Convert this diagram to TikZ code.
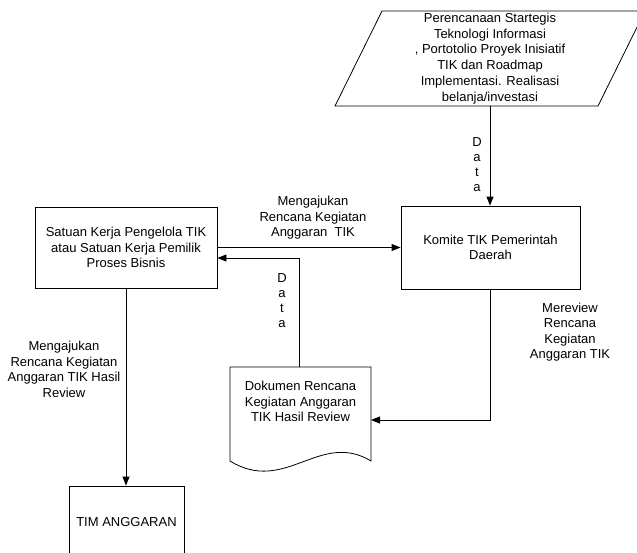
\documentclass[tikz,border=0pt]{standalone}
\usepackage{fontspec}
\setmainfont{Liberation Sans}
\usetikzlibrary{arrows.meta}
\tikzset{
  box/.style={draw, line width=0.8pt, align=center, inner sep=0pt},
  txt/.style={align=center, inner sep=0pt},
  arr/.style={line width=0.8pt, -{Triangle[length=9pt,width=7pt]}},
  ln/.style={line width=0.8pt},
  vdata/.style={align=center, inner sep=0pt, font=\fontsize{13}{15}\selectfont}
}
\begin{document}
\begin{tikzpicture}[x=1pt,y=-1pt, every node/.style={font=\fontsize{13}{15.5}\selectfont}]
\useasboundingbox (0,0) rectangle (637,552);
\clip (0,0) rectangle (637,552);

% parallelogram (data input)
\draw[ln] (335,106) -- (598,106) -- (645,11) -- (382,11) -- cycle;
\node[txt, minimum height=95pt, font=\fontsize{13}{15.8}\selectfont] (plan) at (490,58.5)
  {Perencanaan Startegis\\Teknologi Informasi\\, Portotolio Proyek Inisiatif\\TIK dan Roadmap\\Implementasi. Realisasi\\belanja/investasi};

% process boxes
\node[box, minimum width=182pt, minimum height=81pt] (sat) at (126,247.5)
  {Satuan Kerja Pengelola TIK\\atau Satuan Kerja Pemilik\\Proses Bisnis};
\node[box, minimum width=179pt, minimum height=83pt] (kom) at (490.5,247.5)
  {Komite TIK Pemerintah\\Daerah};
\node[box, minimum width=115pt, minimum height=72pt] (tim) at (126.5,522)
  {TIM ANGGARAN};

% document shape
\draw[ln] (230,367) -- (371,367) -- (371,461) .. controls (320,430) and (285,495) .. (230,461) -- cycle;
\node[txt] (dok) at (300.5,401.5) {Dokumen Rencana\\Kegiatan Anggaran\\TIK Hasil Review};
\coordinate (dokN) at (299,367);
\coordinate (dokE) at (371,420);

% connectors
\draw[arr] (plan.south) -- (plan.south |- kom.north);
\draw[arr] (sat.east) -- (kom.west);
\draw[arr] (dokN) |- ([yshift=-10.5pt]sat.east);
\draw[arr] (kom.south) |- (dokE);
\draw[arr] (sat.south) -- (sat.south |- tim.north);

% labels
\node[vdata] (d1) at (477,165) {D\\a\\t\\a};
\node[txt] (l1) at (313,218) {Mengajukan\\Rencana Kegiatan\\Anggaran\ \ TIK};
\node[vdata] (d2) at (282,300.5) {D\\a\\t\\a};
\node[txt] (l2) at (570,332) {Mereview\\Rencana\\Kegiatan\\Anggaran TIK};
\node[txt] (l3) at (64,369.5) {Mengajukan\\Rencana Kegiatan\\Anggaran TIK Hasil\\Review};
\end{tikzpicture}
\end{document}
